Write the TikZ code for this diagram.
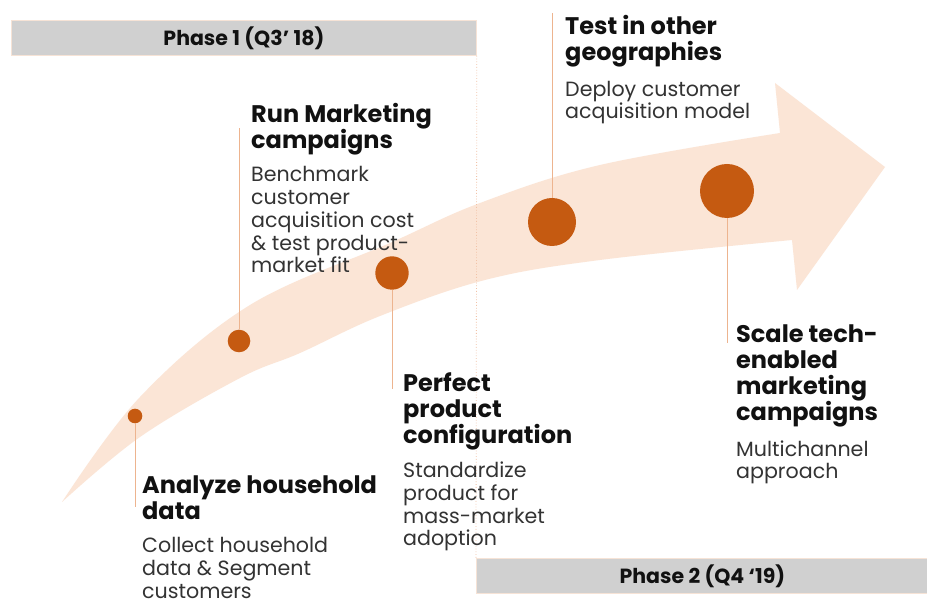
\documentclass[tikz,border=0pt]{standalone}
\usepackage{fontspec}
\setmainfont{Poppins}
\definecolor{arrowfill}{HTML}{FBE5D6}
\definecolor{dotfill}{HTML}{C55A11}
\definecolor{stem}{HTML}{EDB48F}
\definecolor{barfill}{HTML}{D0D0D0}
\definecolor{barline}{HTML}{F6E3D6}
\definecolor{titletext}{HTML}{111111}
\definecolor{desctext}{HTML}{333333}
\definecolor{phasedot}{HTML}{F2C2A6}
\begin{document}
\begin{tikzpicture}[x=1pt,y=-1pt,
  dot/.style={circle,fill=dotfill,draw=none,inner sep=0pt},
  stemline/.style={draw=stem,line width=0.8pt},
  phasebar/.style={fill=barfill,draw=barline,line width=0.8pt,inner sep=0pt,anchor=north west,
    font=\fontsize{20.5}{22}\selectfont\bfseries,text=titletext},
  ttl/.style={anchor=base west,align=left,inner sep=0pt,text=titletext,
    font=\fontsize{24}{26}\selectfont\bfseries},
  dsc/.style={anchor=base west,align=left,inner sep=0pt,text=desctext,
    font=\fontsize{20.6}{22.8}\selectfont}]
\useasboundingbox (0,0) rectangle (927,601);
\fill[white] (0,0) rectangle (927,601);
% curved arrow
\fill[arrowfill] plot[smooth,tension=0.6] coordinates {(62,502) (140,397) (250,305) (390,243) (480,203) (600,165) (780,133)}
  -- (775,83) -- (885,167) -- (797,290) -- (792,240)
  -- plot[smooth,tension=0.6] coordinates {(792,240) (600,260) (485,280) (380,316) (300,353) (240,378) (140,437) (62,502)} -- cycle;
% phase bars
\node[phasebar,minimum width=465pt,minimum height=35pt] (ph1) at (11,20) {Phase 1 (Q3’ 18)};
\node[phasebar,minimum width=452pt,minimum height=35pt] (ph2) at (476,558) {Phase 2 (Q4 ‘19)};
\draw[phasedot,dotted,line width=0.8pt] (ph1.south east) -- (ph2.north west);
% milestones
\node[dot,minimum size=14.6pt] (c1) at (135,416) {};
\node[dot,minimum size=22.6pt] (c2) at (239,341) {};
\node[dot,minimum size=33.4pt] (c3) at (392,273) {};
\node[dot,minimum size=48pt] (c4) at (552,222) {};
\node[dot,minimum size=54pt] (c5) at (727,191) {};
\coordinate (e1) at (135,507);
\coordinate (e2) at (239,128);
\coordinate (e3) at (392,389);
\coordinate (e4) at (552,13);
\coordinate (e5) at (727,343);
\draw[stemline] (c1.south) -- (e1);
\draw[stemline] (c2.north) -- (e2);
\draw[stemline] (c3.south) -- (e3);
\draw[stemline] (c4.north) -- (e4);
\draw[stemline] (c5.south) -- (e5);
% texts (anchored at the baseline of the last line)
\node[ttl] (t1) at (142,520) {Analyze household\\data};
\node[dsc] (d1) at (142,598) {Collect household\\data \& Segment\\customers};
\node[ttl] (t2) at (251,149) {Run Marketing\\campaigns};
\node[dsc] (d2) at (251,273) {Benchmark\\customer\\acquisition cost\\\& test product-\\market fit};
\node[ttl] (t3) at (403,444) {Perfect\\product\\configuration};
\node[dsc] (d3) at (403,546) {Standardize\\product for\\mass-market\\adoption};
\node[ttl] (t4) at (565,61) {Test in other\\geographies};
\node[dsc] (d4) at (565,119) {Deploy customer\\acquisition model};
\node[ttl] (t5) at (736,421) {Scale tech-\\enabled\\marketing\\campaigns};
\node[dsc] (d5) at (736,479) {Multichannel\\approach};
\end{tikzpicture}
\end{document}
